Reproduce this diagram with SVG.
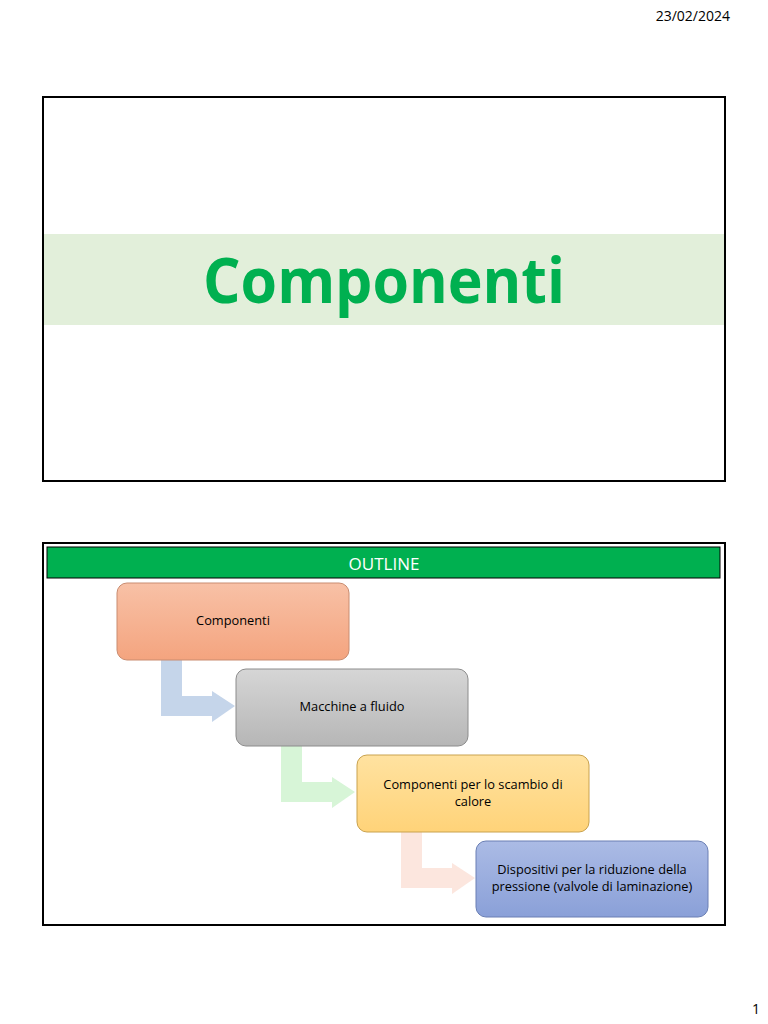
<svg xmlns="http://www.w3.org/2000/svg" width="768" height="1024" viewBox="0 0 768 1024">
<defs>
<linearGradient id="gOrange" x1="0" y1="0" x2="0" y2="1"><stop offset="0" stop-color="#f8c1a6"/><stop offset="1" stop-color="#f4a47f"/></linearGradient>
<linearGradient id="gGray" x1="0" y1="0" x2="0" y2="1"><stop offset="0" stop-color="#d6d6d6"/><stop offset="1" stop-color="#b6b6b6"/></linearGradient>
<linearGradient id="gYellow" x1="0" y1="0" x2="0" y2="1"><stop offset="0" stop-color="#ffe2a0"/><stop offset="1" stop-color="#ffd379"/></linearGradient>
<linearGradient id="gBlue" x1="0" y1="0" x2="0" y2="1"><stop offset="0" stop-color="#abbbe5"/><stop offset="1" stop-color="#8aa0d8"/></linearGradient>
</defs>
<style>
.frame{fill:#ffffff;stroke:#000000;stroke-width:2}
.box{stroke-width:1}
.lbl{font-family:"Open Sans","Liberation Sans",sans-serif;font-size:12.8px;fill:#000000;text-anchor:middle}
.small{font-family:"Open Sans","Liberation Sans",sans-serif;font-size:14px;fill:#000000}
</style>
<rect width="768" height="1024" fill="#ffffff"/>
<text class="small" x="730" y="21" text-anchor="end">23/02/2024</text>
<text class="small" x="760" y="1014" text-anchor="end">1</text>

<g id="slide1">
<rect class="frame" x="43" y="97" width="682" height="384"/>
<rect x="44" y="234" width="680" height="91" fill="#e2efda"/>
<text x="384" y="303" font-family="'Open Sans','Liberation Sans',sans-serif" font-weight="bold" font-size="62" fill="#00b050" text-anchor="middle" textLength="362" lengthAdjust="spacingAndGlyphs" style="font-variant-ligatures:none">Componenti</text>
</g>

<g id="slide2">
<rect class="frame" x="43" y="543" width="682" height="382"/>
<rect x="47" y="547" width="673" height="31" fill="#00b050" stroke="#000000" stroke-width="1"/>
<text x="384" y="570" font-family="'Open Sans','Liberation Sans',sans-serif" font-size="17" fill="#ffffff" text-anchor="middle">OUTLINE</text>
</g>

<g id="connectors">
<path d="M161,660 L182,660 L182,696 L212,696 L212,691 L235,706 L212,722 L212,716 L161,716 Z" fill="#c5d5ea"/>
<path d="M281,746 L302,746 L302,782 L332,782 L332,777 L355,792 L332,808 L332,802 L281,802 Z" fill="#d7f5d7"/>
<path d="M401,832 L422,832 L422,868 L452,868 L452,863 L475,878 L452,894 L452,888 L401,888 Z" fill="#fce6de"/>
</g>

<g id="node1">
<rect class="box" x="117" y="583" width="232" height="77" rx="10" fill="url(#gOrange)" stroke="#c98c70"/>
<text class="lbl" x="233" y="625">Componenti</text>
</g>
<g id="node2">
<rect class="box" x="236" y="669" width="232" height="77" rx="10" fill="url(#gGray)" stroke="#8c8c8c"/>
<text class="lbl" x="352" y="711">Macchine a fluido</text>
</g>
<g id="node3">
<rect class="box" x="357" y="755" width="232" height="77" rx="10" fill="url(#gYellow)" stroke="#c9a24e"/>
<text class="lbl" x="473" y="789">Componenti per lo scambio di</text>
<text class="lbl" x="473" y="806">calore</text>
</g>
<g id="node4">
<rect class="box" x="476" y="841" width="232" height="76" rx="10" fill="url(#gBlue)" stroke="#6a7fb4"/>
<text class="lbl" x="592" y="874">Dispositivi per la riduzione della</text>
<text class="lbl" x="592" y="891">pressione (valvole di laminazione)</text>
</g>
</svg>
